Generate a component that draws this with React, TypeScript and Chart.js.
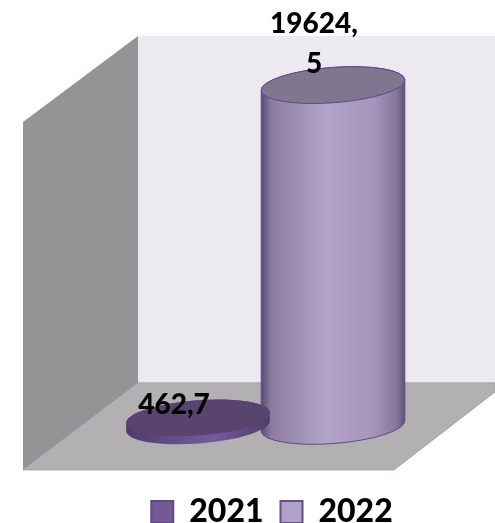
import React, { useEffect, useRef } from "react";
import { Chart, registerables } from "chart.js";

Chart.register(...registerables);

const categories = [""];
const seriesNames = ["2021", "2022"];
const values2021 = [462.7];
const values2022 = [19624.5];
const dataLabels = [["462,7"], ["19624,", "5"]];
const FONT = "Lato, Carlito, sans-serif";

const tilt = -0.076;

const cylinderPlugin = {
  id: "cylinder",
  beforeDatasetsDraw(chart: any) {
    const { ctx, chartArea, scales } = chart;
    const zero = scales.y.getPixelForValue(0);
    const top = chartArea.top;
    const backBottom = zero - 43;
    const frontBottom = zero + 44;
    const outer = 23;
    const back = 138;
    const frontRight = 394;
    const right = chart.width;
    ctx.save();
    ctx.fillStyle = "#ECE9F1";
    ctx.fillRect(back, top, right - back, backBottom - top);
    ctx.fillStyle = "#959396";
    ctx.beginPath();
    ctx.moveTo(back, top);
    ctx.lineTo(outer, top + 86);
    ctx.lineTo(outer, frontBottom);
    ctx.lineTo(back, backBottom);
    ctx.closePath();
    ctx.fill();
    ctx.fillStyle = "#B3B0B4";
    ctx.strokeStyle = "#A3A1A5";
    ctx.lineWidth = 1;
    ctx.beginPath();
    ctx.moveTo(back, backBottom);
    ctx.lineTo(right, backBottom);
    ctx.lineTo(right, backBottom + 9);
    ctx.lineTo(frontRight, frontBottom);
    ctx.lineTo(outer, frontBottom);
    ctx.closePath();
    ctx.fill();
    ctx.stroke();
    ctx.restore();
  },
  beforeDatasetDraw(chart: any, args: any) {
    const { ctx } = chart;
    const el = chart.getDatasetMeta(args.index).data[0];
    const rx = el.width / 2;
    const ry = rx * 0.245;
    const isDisc = args.index === 0;
    const g = ctx.createLinearGradient(el.x - rx, 0, el.x + rx, 0);
    if (isDisc) {
      g.addColorStop(0, "#4B3B68");
      g.addColorStop(0.3, "#624C85");
      g.addColorStop(0.6, "#755A9E");
      g.addColorStop(1, "#4F3E6C");
    } else {
      g.addColorStop(0, "#564A72");
      g.addColorStop(0.07, "#8B7C9F");
      g.addColorStop(0.45, "#B3A4CA");
      g.addColorStop(0.78, "#A595BC");
      g.addColorStop(0.94, "#85789A");
      g.addColorStop(1, "#5E5178");
    }
    ctx.save();
    ctx.beginPath();
    ctx.ellipse(el.x, el.base, rx, ry, tilt, 0, Math.PI);
    ctx.ellipse(el.x, el.y, rx, ry, tilt, Math.PI, Math.PI * 2);
    ctx.closePath();
    ctx.fillStyle = g;
    ctx.fill();
    ctx.strokeStyle = isDisc ? "#5A4580" : "#5F4A88";
    ctx.lineWidth = 1;
    if (!isDisc) ctx.stroke();
    ctx.beginPath();
    ctx.ellipse(el.x, el.y, rx, ry, tilt, 0, Math.PI * 2);
    ctx.fillStyle = isDisc ? "#59436F" : "#7F7690";
    ctx.fill();
    if (!isDisc) ctx.stroke();
    ctx.restore();
    return false;
  },
  afterDatasetsDraw(chart: any) {
    const { ctx } = chart;
    ctx.save();
    ctx.fillStyle = "#000";
    ctx.font = `900 28px ${FONT}`;
    ctx.textAlign = "center";
    ctx.textBaseline = "middle";
    dataLabels.forEach((lines, i) => {
      const el = chart.getDatasetMeta(i).data[0];
      const lineH = 40;
      const bottomLine = el.y - (i === 0 ? 13 : 21);
      const dx = i === 0 ? -24 : -19;
      lines.forEach((t, j) => {
        ctx.fillText(t, el.x + dx, bottomLine - (lines.length - 1 - j) * lineH);
      });
    });
    ctx.restore();
  },
};

export default function App() {
  const ref = useRef<HTMLCanvasElement>(null);
  useEffect(() => {
    document.body.style.margin = "0";
    const chart = new Chart(ref.current as HTMLCanvasElement, {
      type: "bar",
      data: {
        labels: categories,
        datasets: [
          {
            label: seriesNames[0],
            data: values2021,
            backgroundColor: "#735A97",
            borderColor: "#5F4A85",
            borderWidth: 2,
          },
          {
            label: seriesNames[1],
            data: values2022,
            backgroundColor: "#B1A2CA",
            borderColor: "#664F8C",
            borderWidth: 2,
          },
        ],
      },
      options: {
        responsive: false,
        animation: false,
        layout: { padding: { left: 49, right: 0, top: 36, bottom: -15 } },
        datasets: { bar: { categoryPercentage: 0.6236, barPercentage: 1.0667 } },
        scales: {
          x: { display: false },
          y: {
            position: "right",
            min: -3059,
            max: 22452,
            ticks: { display: false },
            grid: { display: false },
            border: { display: false },
            afterFit(scale: any) {
              scale.width = 13;
            },
          },
        },
        plugins: {
          tooltip: { enabled: false },
          legend: {
            position: "bottom",
            labels: {
              boxWidth: 22,
              boxHeight: 22,
              padding: 17,
              color: "#000",
              font: { family: FONT, size: 32, weight: "900" },
            },
          },
        },
      } as any,
      plugins: [cylinderPlugin],
    });
    return () => chart.destroy();
  }, []);
  return (
    <div style={{ position: "absolute", left: 0, top: 0, width: 495, height: 523 }}>
      <canvas ref={ref} width={495} height={523} style={{ display: "block" }} />
    </div>
  );
}
